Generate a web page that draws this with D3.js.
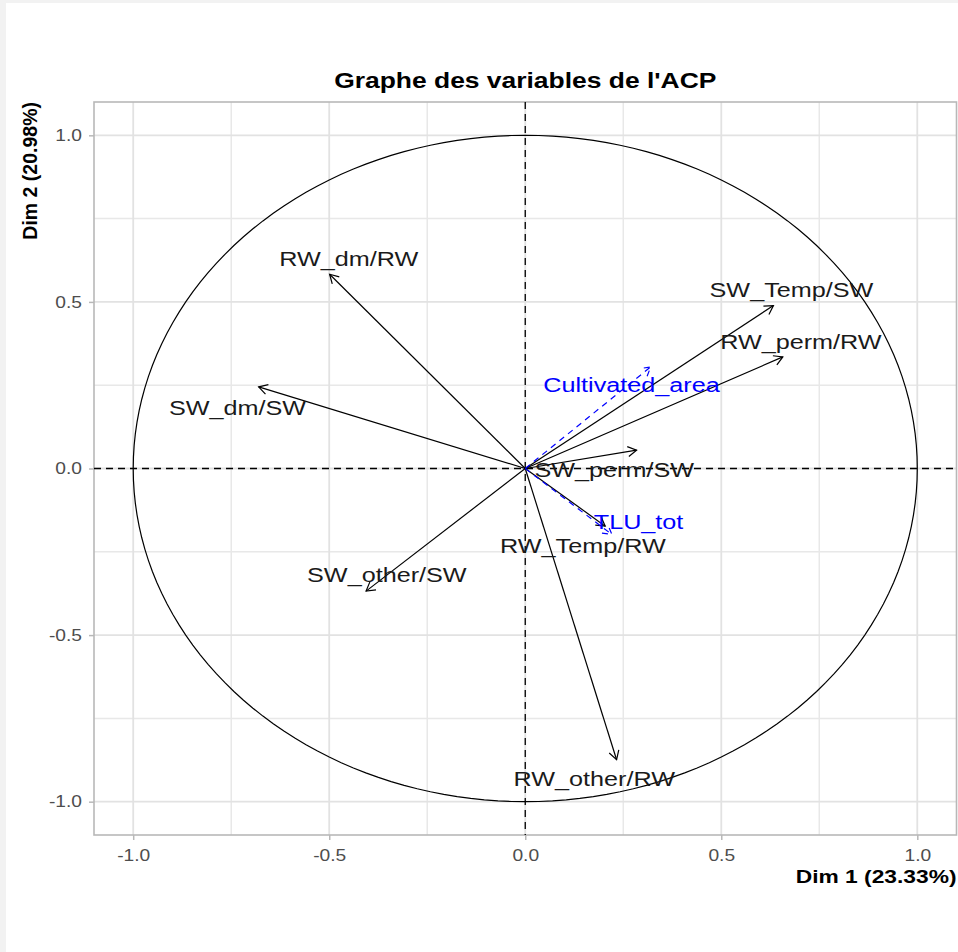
<!DOCTYPE html>
<html>
<head>
<meta charset="utf-8">
<script src="https://cdn.jsdelivr.net/npm/d3@7"></script>
<style>
  body { margin: 0; background: #f2f2f2; }
  svg { display: block; }
</style>
</head>
<body>
<svg id="chart" width="958" height="952"></svg>
<script>
// Active variables (Dim 1 / Dim 2 coordinates) and where their labels sit
const activeVars = ["RW_dm/RW", "SW_dm/SW", "SW_other/SW", "RW_other/RW", "SW_Temp/SW", "RW_perm/RW", "SW_perm/SW", "RW_Temp/RW"];
const activeDim1 = [-0.499, -0.680, -0.406, 0.233, 0.633, 0.657, 0.284, 0.204];
const activeDim2 = [0.583, 0.245, -0.368, -0.874, 0.489, 0.335, 0.055, -0.173];
const activeLabelDim1 = [-0.450, -0.734, -0.353, 0.176, 0.679, 0.703, 0.227, 0.147];
const activeLabelDim2 = [0.630, 0.184, -0.318, -0.931, 0.538, 0.382, -0.002, -0.231];

// Supplementary variables (blue, dashed)
const suppVars = ["Cultivated_area", "TLU_tot"];
const suppDim1 = [0.320, 0.221];
const suppDim2 = [0.305, -0.198];
const suppLabelDim1 = [0.271, 0.289];
const suppLabelDim2 = [0.251, -0.158];

const ticks = [-1.0, -0.5, 0.0, 0.5, 1.0];
const tickLabels = ["-1.0", "-0.5", "0.0", "0.5", "1.0"];
const minorTicks = [-0.75, -0.25, 0.25, 0.75];
const title = "Graphe des variables de l'ACP";
const xTitle = "Dim 1 (23.33%)";
const yTitle = "Dim 2 (20.98%)";

// Set up dimensions
const margin = { top: 102, right: 1.5, bottom: 117, left: 94 };
const W = 958, H = 952;
const width = W - margin.left - margin.right;
const height = H - margin.top - margin.bottom;
const stretch = 1.2; // text in the reference is a bit wide

const svg = d3.select("#chart");

svg.append("rect").attr("x", 6).attr("y", 3).attr("width", W - 6).attr("height", H - 3).attr("fill", "#ffffff");

const x = d3.scaleLinear().domain([-1.1, 1.1]).range([margin.left, margin.left + width]);
const y = d3.scaleLinear().domain([-1.1, 1.1]).range([margin.top + height, margin.top]);

function stretchedText(g, px, py, txt, s = stretch) {
  return g.append("text")
    .attr("transform", `translate(${px},${py}) scale(${s},1)`)
    .text(txt);
}

// grid
const grid = svg.append("g");
grid.selectAll(".minx").data(minorTicks).enter().append("line")
  .attr("x1", d => x(d)).attr("x2", d => x(d))
  .attr("y1", margin.top).attr("y2", margin.top + height)
  .attr("stroke", "#e8e8e8").attr("stroke-width", 1.5);
grid.selectAll(".miny").data(minorTicks).enter().append("line")
  .attr("y1", d => y(d)).attr("y2", d => y(d))
  .attr("x1", margin.left).attr("x2", margin.left + width)
  .attr("stroke", "#e8e8e8").attr("stroke-width", 1.5);
grid.selectAll(".majx").data(ticks).enter().append("line")
  .attr("x1", d => x(d)).attr("x2", d => x(d))
  .attr("y1", margin.top).attr("y2", margin.top + height)
  .attr("stroke", "#e2e2e2").attr("stroke-width", 1.8);
grid.selectAll(".majy").data(ticks).enter().append("line")
  .attr("y1", d => y(d)).attr("y2", d => y(d))
  .attr("x1", margin.left).attr("x2", margin.left + width)
  .attr("stroke", "#e2e2e2").attr("stroke-width", 1.8);

// panel border
svg.append("rect")
  .attr("x", margin.left).attr("y", margin.top)
  .attr("width", width).attr("height", height)
  .attr("fill", "none").attr("stroke", "#b8b8b8").attr("stroke-width", 1.6);

// axes
const fmt = d => tickLabels[ticks.indexOf(d)];
const xAxis = d3.axisBottom(x).tickValues(ticks).tickFormat(fmt).tickSize(5).tickPadding(10);
const gx = svg.append("g").attr("transform", `translate(0,${margin.top + height})`).call(xAxis);
const yAxis = d3.axisLeft(y).tickValues(ticks).tickFormat(fmt).tickSize(5).tickPadding(8);
const gy = svg.append("g").attr("transform", `translate(${margin.left},0)`).call(yAxis);
[gx, gy].forEach(g => {
  g.select(".domain").remove();
  g.selectAll(".tick line").attr("stroke", "#b8b8b8").attr("stroke-width", 1.5);
  g.selectAll(".tick text")
    .attr("fill", "#4d4d4d")
    .attr("font-family", "'Liberation Sans', Arial, sans-serif")
    .attr("font-size", 16);
});
gx.selectAll(".tick text").attr("transform", `scale(${stretch},1)`).attr("x", 0);
gy.selectAll(".tick text").attr("transform", `translate(-12,0) scale(${stretch},1)`).attr("x", 0);

// reference lines at 0
svg.append("line")
  .attr("x1", x(0)).attr("x2", x(0)).attr("y1", margin.top).attr("y2", margin.top + height)
  .attr("stroke", "#000").attr("stroke-width", 1.3).attr("stroke-dasharray", "7,5");
svg.append("line")
  .attr("y1", y(0)).attr("y2", y(0)).attr("x1", margin.left).attr("x2", margin.left + width)
  .attr("stroke", "#000").attr("stroke-width", 1.3).attr("stroke-dasharray", "7,5");

// correlation circle
const angles = d3.range(0, 361, 2).map(a => a * Math.PI / 180);
svg.append("path")
  .datum(angles)
  .attr("d", d3.line().x(a => x(Math.cos(a))).y(a => y(Math.sin(a))))
  .attr("fill", "none").attr("stroke", "#000").attr("stroke-width", 1.2);

// arrows
function drawArrows(dim1, dim2, color, dash) {
  const g = svg.append("g");
  dim1.forEach((d1, i) => {
    const x0 = x(0), y0 = y(0), x1 = x(d1), y1 = y(dim2[i]);
    const ang = Math.atan2(y1 - y0, x1 - x0);
    const len = 10, spread = Math.PI / 6;
    g.append("line")
      .attr("x1", x0).attr("y1", y0).attr("x2", x1).attr("y2", y1)
      .attr("stroke", color).attr("stroke-width", 1.2)
      .attr("stroke-dasharray", dash);
    g.append("path")
      .attr("d", `M${x1 - len * Math.cos(ang - spread)},${y1 - len * Math.sin(ang - spread)}L${x1},${y1}L${x1 - len * Math.cos(ang + spread)},${y1 - len * Math.sin(ang + spread)}`)
      .attr("fill", "none").attr("stroke", color).attr("stroke-width", 1.2)
      .attr("stroke-dasharray", dash);
  });
}
drawArrows(activeDim1, activeDim2, "#000000", null);
drawArrows(suppDim1, suppDim2, "#0000ff", "6,5");

// variable labels
function drawLabels(names, lx, ly, color) {
  const g = svg.append("g")
    .attr("font-family", "'Liberation Sans', Arial, sans-serif")
    .attr("font-size", 21).attr("fill", color).attr("text-anchor", "middle");
  names.forEach((n, i) => {
    stretchedText(g, x(lx[i]), y(ly[i]), n).attr("dy", "0.36em");
  });
}
drawLabels(activeVars, activeLabelDim1, activeLabelDim2, "#1a1a1a");
drawLabels(suppVars, suppLabelDim1, suppLabelDim2, "#0000ff");

// titles
const tg = svg.append("g").attr("font-family", "'Liberation Sans', Arial, sans-serif").attr("font-weight", "bold").attr("fill", "#000");
stretchedText(tg, margin.left + width / 2, 88, title, 1.23).attr("font-size", 21.5).attr("text-anchor", "middle");
stretchedText(tg, margin.left + width, 883, xTitle).attr("font-size", 19).attr("text-anchor", "end");
tg.append("text")
  .attr("transform", `translate(37,${margin.top}) rotate(-90)`)
  .attr("font-size", 19.5).attr("text-anchor", "end")
  .text(yTitle);
</script>
</body>
</html>
